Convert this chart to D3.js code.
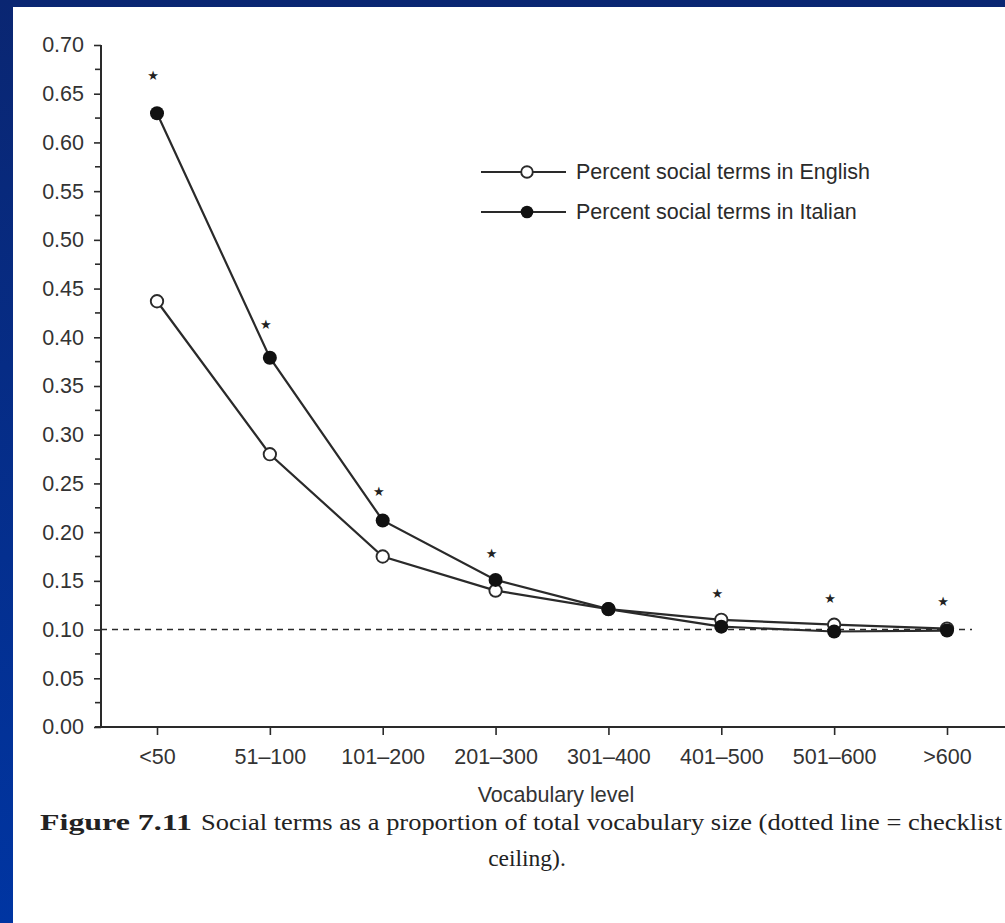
<!DOCTYPE html>
<html>
<head>
<meta charset="utf-8">
<script src="https://cdn.jsdelivr.net/npm/d3@7"></script>
<style>
  body { margin: 0; padding: 0; overflow: hidden; }
  svg { display: block; }
</style>
</head>
<body>
<div id="chart"></div>
<script>
// data
const categories = ["<50", "51\u2013100", "101\u2013200", "201\u2013300", "301\u2013400", "401\u2013500", "501\u2013600", ">600"];
const english = [0.437, 0.280, 0.175, 0.140, 0.121, 0.110, 0.105, 0.101];
const italian = [0.630, 0.379, 0.212, 0.151, 0.121, 0.103, 0.098, 0.099];
// significance stars (null = no star)
const stars = [0.67, 0.415, 0.243, 0.180, null, 0.139, 0.133, 0.130];
const yTicks = [0, 0.05, 0.10, 0.15, 0.20, 0.25, 0.30, 0.35, 0.40, 0.45, 0.50, 0.55, 0.60, 0.65, 0.70];
const ceiling = 0.10;
const legendLabels = ["Percent social terms in English", "Percent social terms in Italian"];

const W = 1005, H = 923;
const ink = "#2a2a2a";
const sans = "Liberation Sans, Arial, sans-serif";
const serif = "Liberation Serif, Times New Roman, serif";

const svg = d3.select("#chart").append("svg")
    .attr("width", W)
    .attr("height", H);

// blue slide background
const grad = svg.append("defs").append("linearGradient")
    .attr("id", "bg").attr("x1", 0).attr("y1", 0).attr("x2", 0).attr("y2", 1);
grad.append("stop").attr("offset", "0%").attr("stop-color", "#0a2672");
grad.append("stop").attr("offset", "100%").attr("stop-color", "#0035a2");
svg.append("rect").attr("width", W).attr("height", H).attr("fill", "url(#bg)");
svg.append("rect").attr("x", 13).attr("y", 7).attr("width", W - 13).attr("height", H - 7).attr("fill", "#ffffff");

const x = d3.scalePoint()
    .domain(categories)
    .range([157, 947]);

const y = d3.scaleLinear()
    .domain([0, 0.70])
    .range([727, 45]);

// y axis
const yAxis = svg.append("g")
    .attr("transform", "translate(101,0)")
    .call(d3.axisLeft(y).tickValues(yTicks).tickFormat(d3.format(".2f")).tickSize(7).tickPadding(10));
yAxis.select(".domain").attr("stroke", ink).attr("stroke-width", 2).attr("d", `M0,${y(0.70)}V${y(0)}`);
yAxis.selectAll(".tick line").attr("stroke", ink).attr("stroke-width", 1.6);
yAxis.selectAll(".tick text")
    .attr("fill", "#333")
    .style("font-family", sans)
    .style("font-size", "21.5px");

// minor ticks
svg.append("g").selectAll("line")
    .data(d3.range(0.025, 0.70, 0.05))
    .join("line")
    .attr("x1", 95).attr("x2", 101)
    .attr("y1", d => y(d)).attr("y2", d => y(d))
    .attr("stroke", ink).attr("stroke-width", 1.6);

// x axis
const xAxis = svg.append("g")
    .attr("transform", `translate(0,${y(0)})`)
    .call(d3.axisBottom(x).tickSize(8).tickPadding(14));
xAxis.select(".domain").attr("stroke", ink).attr("stroke-width", 2).attr("d", `M95,0H${W}`);
xAxis.selectAll(".tick line").attr("stroke", ink).attr("stroke-width", 1.6);
xAxis.selectAll(".tick text")
    .attr("fill", "#333")
    .style("font-family", sans)
    .style("font-size", "21.5px");

svg.append("text")
    .attr("x", 556).attr("y", 802)
    .attr("text-anchor", "middle")
    .attr("fill", "#333")
    .style("font-family", sans)
    .style("font-size", "21.5px")
    .text("Vocabulary level");

// checklist ceiling
svg.append("line")
    .attr("x1", 101).attr("x2", 972)
    .attr("y1", y(ceiling)).attr("y2", y(ceiling))
    .attr("stroke", ink).attr("stroke-width", 1.6)
    .attr("stroke-dasharray", "6,5");

const line = d3.line()
    .x((d, i) => x(categories[i]))
    .y(d => y(d));

svg.append("path").datum(english)
    .attr("fill", "none").attr("stroke", ink).attr("stroke-width", 2.2)
    .attr("d", line);
svg.append("path").datum(italian)
    .attr("fill", "none").attr("stroke", ink).attr("stroke-width", 2.2)
    .attr("d", line);

svg.append("g").selectAll("circle")
    .data(english)
    .join("circle")
    .attr("cx", (d, i) => x(categories[i]))
    .attr("cy", d => y(d))
    .attr("r", 6.2)
    .attr("fill", "#fff").attr("stroke", ink).attr("stroke-width", 1.9);

svg.append("g").selectAll("circle")
    .data(italian)
    .join("circle")
    .attr("cx", (d, i) => x(categories[i]))
    .attr("cy", d => y(d))
    .attr("r", 7)
    .attr("fill", "#111");

// stars
svg.append("g").selectAll("text")
    .data(stars.map((s, i) => ({ s, c: categories[i] })).filter(d => d.s !== null))
    .join("text")
    .attr("x", d => x(d.c) - 4)
    .attr("y", d => y(d.s) + 6)
    .attr("text-anchor", "middle")
    .attr("fill", "#222")
    .style("font-family", "DejaVu Sans, sans-serif")
    .style("font-size", "13px")
    .text("\u2605");

// legend
const legend = svg.append("g");
legendLabels.forEach((label, i) => {
    const ly = 172 + i * 40;
    legend.append("line")
        .attr("x1", 481).attr("x2", 566).attr("y1", ly).attr("y2", ly)
        .attr("stroke", ink).attr("stroke-width", 1.9);
    legend.append("circle")
        .attr("cx", 527).attr("cy", ly)
        .attr("r", i === 0 ? 5.8 : 6.3)
        .attr("fill", i === 0 ? "#fff" : "#111")
        .attr("stroke", ink).attr("stroke-width", i === 0 ? 1.9 : 0);
    legend.append("text")
        .attr("x", 576).attr("y", ly + 7)
        .attr("fill", "#2a2a2a")
        .style("font-family", sans)
        .style("font-size", "21.5px")
        .text(label);
});

// caption
svg.append("text")
    .attr("x", 40).attr("y", 830)
    .attr("fill", "#222")
    .attr("textLength", 152).attr("lengthAdjust", "spacingAndGlyphs")
    .style("font-family", serif)
    .style("font-weight", "bold")
    .style("font-size", "23.5px")
    .text("Figure 7.11");
svg.append("text")
    .attr("x", 201).attr("y", 830)
    .attr("fill", "#222")
    .attr("textLength", 801).attr("lengthAdjust", "spacingAndGlyphs")
    .style("font-family", serif)
    .style("font-size", "23.5px")
    .text("Social terms as a proportion of total vocabulary size (dotted line = checklist");
svg.append("text")
    .attr("x", 527).attr("y", 866)
    .attr("text-anchor", "middle")
    .attr("fill", "#222")
    .style("font-family", serif)
    .style("font-size", "23.5px")
    .text("ceiling).");
</script>
</body>
</html>
